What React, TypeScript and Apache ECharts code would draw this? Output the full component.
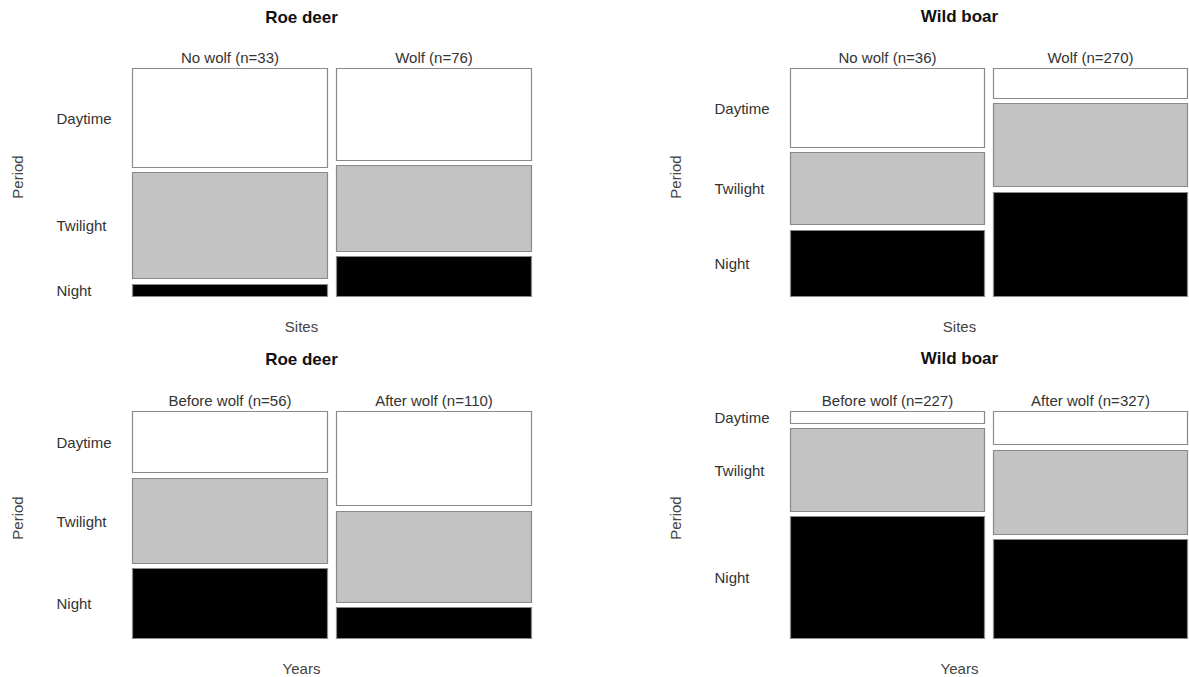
import React, { useEffect, useRef } from "react";
import * as echarts from "echarts";

// ---- Data ----
const periods = ["Daytime", "Twilight", "Night"];
const periodColors = ["#ffffff", "#c3c3c3", "#000000"];

const panelTitles = ["Roe deer", "Wild boar", "Roe deer", "Wild boar"];
const panelXLabels = ["Sites", "Sites", "Years", "Years"];

const groupsSites = ["No wolf", "Wolf"];
const groupsYears = ["Before wolf", "After wolf"];

// counts [Daytime, Twilight, Night] per group
const roeSitesNoWolf = [15, 16, 2];
const roeSitesWolf = [32, 30, 14];
const boarSitesNoWolf = [13, 12, 11];
const boarSitesWolf = [38, 103, 129];
const roeYearsBefore = [16, 22, 18];
const roeYearsAfter = [48, 46, 16];
const boarYearsBefore = [14, 86, 127];
const boarYearsAfter = [52, 127, 148];

const panelGroups = [groupsSites, groupsSites, groupsYears, groupsYears];
const panelCounts = [
  [roeSitesNoWolf, roeSitesWolf],
  [boarSitesNoWolf, boarSitesWolf],
  [roeYearsBefore, roeYearsAfter],
  [boarYearsBefore, boarYearsAfter],
];

// ---- Layout ----
const FONT = "'Liberation Sans', Arial, Helvetica, sans-serif";
const grids = [
  { left: 132, top: 68, width: 400, height: 229 },
  { left: 790, top: 68, width: 398, height: 229 },
  { left: 132, top: 410.5, width: 400, height: 228.5 },
  { left: 790, top: 410.5, width: 398, height: 228.5 },
];
const XGAP = 0.0215;
const YGAP = 0.0188;

function buildData(counts: number[][]) {
  const colW = (1 - XGAP) / 2;
  const out: any[] = [];
  counts.forEach((col, ci) => {
    const total = col.reduce((a, b) => a + b, 0);
    const x0 = ci * (colW + XGAP);
    const x1 = x0 + colW;
    let cum = 0;
    col.forEach((v, pi) => {
      const y0 = (cum / total) * (1 - 2 * YGAP) + pi * YGAP;
      cum += v;
      const y1 = (cum / total) * (1 - 2 * YGAP) + pi * YGAP;
      out.push({ value: [x0, x1, y0, y1, pi, ci, total] });
    });
  });
  return out;
}

function makeRenderItem(groups: string[]) {
  return (params: any, api: any) => {
    const x0 = api.value(0);
    const x1 = api.value(1);
    const y0 = api.value(2);
    const y1 = api.value(3);
    const pi = api.value(4);
    const ci = api.value(5);
    const total = api.value(6);
    const a = api.coord([x0, y0]);
    const b = api.coord([x1, y1]);
    const left = Math.round(Math.min(a[0], b[0])) + 0.5;
    const right = Math.round(Math.max(a[0], b[0])) - 0.5;
    const top = Math.round(Math.min(a[1], b[1])) + 0.5;
    const bottom = Math.round(Math.max(a[1], b[1])) - 0.5;
    const children: any[] = [
      {
        type: "rect",
        shape: { x: left, y: top, width: right - left, height: bottom - top },
        style: { fill: periodColors[pi], stroke: "#8a8a8a", lineWidth: 1.2 },
      },
    ];
    if (pi === 0) {
      children.push({
        type: "text",
        style: {
          text: `${groups[ci]} (n=${total})`,
          x: (left + right) / 2,
          y: top - 11,
          align: "center",
          verticalAlign: "middle",
          textAlign: "center",
          textVerticalAlign: "middle",
          font: `15px ${FONT}`,
          fill: "#333333",
        },
      });
    }
    if (ci === 0) {
      children.push({
        type: "text",
        style: {
          text: periods[pi],
          x: left - 76,
          y: (top + bottom) / 2,
          align: "left",
          verticalAlign: "middle",
          textAlign: "left",
          textVerticalAlign: "middle",
          font: `15px ${FONT}`,
          fill: "#333333",
        },
      });
    }
    return { type: "group", children };
  };
}

export default function App() {
  const ref = useRef<HTMLDivElement>(null);
  useEffect(() => {
    if (!ref.current) return;
    const chart = echarts.init(ref.current, undefined, { renderer: "svg" });
    const graphics: any[] = [];
    const titleX = [301.5, 959.5, 301.5, 959.5];
    const titleY = [17, 16, 359, 358];
    const xLabY = [326, 326, 668, 668];
    const periodX = [17, 675, 17, 675];
    const periodY = [177, 177, 518, 518];
    for (let i = 0; i < 4; i++) {
      graphics.push({
        type: "text",
        x: titleX[i],
        y: titleY[i],
        style: {
          text: panelTitles[i],
          align: "center",
          verticalAlign: "middle",
          textAlign: "center",
          textVerticalAlign: "middle",
          font: `bold 17px ${FONT}`,
          fill: "#111111",
        },
      });
      graphics.push({
        type: "text",
        x: titleX[i],
        y: xLabY[i],
        style: {
          text: panelXLabels[i],
          align: "center",
          verticalAlign: "middle",
          textAlign: "center",
          textVerticalAlign: "middle",
          font: `15px ${FONT}`,
          fill: "#444444",
        },
      });
      graphics.push({
        type: "text",
        x: periodX[i],
        y: periodY[i],
        rotation: Math.PI / 2,
        style: {
          text: "Period",
          align: "center",
          verticalAlign: "middle",
          textAlign: "center",
          textVerticalAlign: "middle",
          font: `15px ${FONT}`,
          fill: "#444444",
        },
      });
    }
    const option: any = {
      animation: false,
      backgroundColor: "#ffffff",
      grid: grids.map((g) => ({ ...g, containLabel: false })),
      xAxis: grids.map((_, i) => ({ type: "value", gridIndex: i, min: 0, max: 1, show: false })),
      yAxis: grids.map((_, i) => ({ type: "value", gridIndex: i, min: 0, max: 1, inverse: true, show: false })),
      series: grids.map((_, i) => ({
        type: "custom",
        xAxisIndex: i,
        yAxisIndex: i,
        renderItem: makeRenderItem(panelGroups[i]),
        encode: { x: [0, 1], y: [2, 3] },
        data: buildData(panelCounts[i]),
        silent: true,
      })),
      graphic: graphics,
    };
    chart.setOption(option);
    return () => chart.dispose();
  }, []);
  return (
    <div
      ref={ref}
      style={{ position: "absolute", left: 0, top: 0, width: 1189, height: 677 }}
    />
  );
}
